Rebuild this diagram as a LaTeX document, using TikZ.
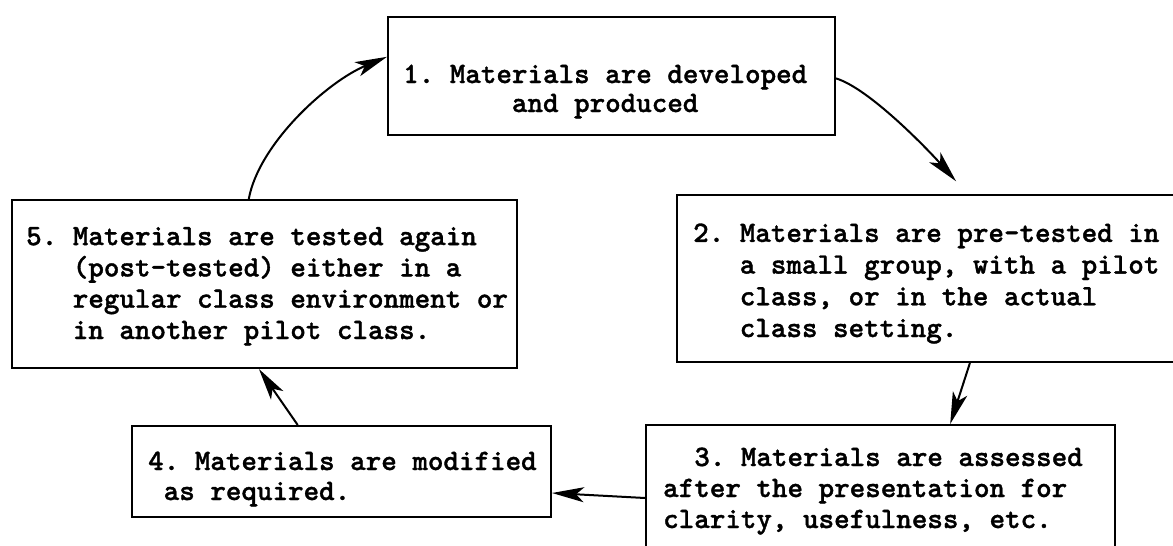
\documentclass[tikz,border=0pt]{standalone}
\usepackage{fontspec}
\newfontfamily\tw{lmmonolt10-bold.otf}[FakeBold=1.2]
\usetikzlibrary{arrows.meta,calc}
\begin{document}
\begin{tikzpicture}[x=1pt,y=-1pt,
  boxst/.style={draw, line width=2pt, inner sep=0pt, rectangle},
  txt/.style={font=\tw\fontsize{29.6}{#1}\selectfont\frenchspacing, anchor=base west, inner sep=0pt, align=left},
  arr/.style={line width=2pt, -{Stealth[length=32pt,width=15pt,inset=8pt]}}]
\useasboundingbox (0,0) rectangle (1173,546);
\clip (0,0) rectangle (1173,546);
% boxes
\node[boxst, minimum width=447pt, minimum height=118pt] (b1) at (611.5,76) {};
\node[boxst, minimum width=503pt, minimum height=167pt] (b2) at (928.5,278.5) {};
\node[boxst, minimum width=469pt, minimum height=131pt] (b3) at (880.5,490.5) {};
\node[boxst, minimum width=419pt, minimum height=91pt] (b4) at (341.5,471.5) {};
\node[boxst, minimum width=505pt, minimum height=168pt] (b5) at (264.5,284) {};
% texts (anchored at the baseline of the last line)
\node[txt=29] (t1) at (403,112) {1. Materials are developed\\\phantom{xxxxxxx}and produced};
\node[txt=31.7] (t2) at (693,337) {2. Materials are pre-tested in\\\phantom{xxx}a small group, with a pilot\\\phantom{xxx}class, or in the actual\\\phantom{xxx}class setting.};
\node[txt=31] (t3) at (663,528) {\phantom{xx}3. Materials are assessed\\after the presentation for\\clarity, usefulness, etc.};
\node[txt=30] (t4) at (148,500) {4. Materials are modified\\\phantom{x}as required.};
\node[txt=31.3] (t5) at (26,339) {5. Materials are tested again\\\phantom{xxx}(post-tested) either in a\\\phantom{xxx}regular class environment or\\\phantom{xxx}in another pilot class.};
% connectors
\draw[arr] ($(b5.north west)!0.469!(b5.north east)$) .. controls +(10,-55) and +(-60,25) .. ($(b1.north west)!0.34!(b1.south west)$);
\draw[arr, shorten >=17pt] ($(b1.north east)!0.52!(b1.south east)$) .. controls +(33,10) and +(-40,-45) .. ($(b2.north west)!0.577!(b2.north east)$);
\draw[arr] ($(b2.south west)!0.582!(b2.south east)$) -- ($(b3.north west)!0.648!(b3.north east)$);
\draw[arr] ($(b3.north west)+(0,74)$) -- ($(b4.north east)+(0,68)$);
\draw[arr] ($(b4.north west)!0.396!(b4.north east)$) -- ($(b5.south west)!0.489!(b5.south east)$);
\end{tikzpicture}
\end{document}
